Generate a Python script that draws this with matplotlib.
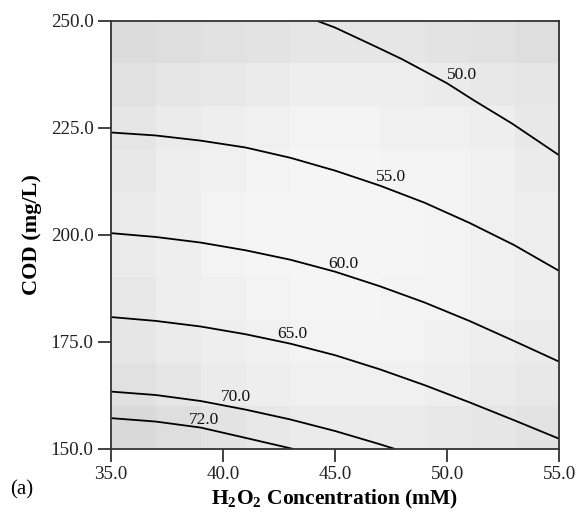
import matplotlib
matplotlib.use("Agg")
import matplotlib.pyplot as plt
import numpy as np

# ---- data ----
levels = ["50.0", "55.0", "60.0", "65.0", "70.0", "72.0"]

x50 = [44.18, 45.0, 46.88, 48.0, 50.0, 51.17, 52.9, 55.0]
y50 = [250.0, 248.4, 243.8, 241.0, 235.4, 231.5, 226.0, 218.6]

x55 = [35.0, 37.0, 39.0, 41.0, 43.0, 45.0, 47.0, 49.0, 51.0, 53.0, 55.0]
y55 = [223.9, 223.2, 222.0, 220.4, 218.0, 215.0, 211.5, 207.5, 202.8, 197.6, 191.6]

x60 = [35.0, 37.0, 39.0, 41.0, 43.0, 45.0, 47.0, 49.0, 51.0, 53.0, 55.0]
y60 = [200.4, 199.5, 198.2, 196.4, 194.2, 191.4, 188.0, 184.2, 179.9, 175.2, 170.4]

x65 = [35.0, 37.0, 39.0, 41.0, 43.0, 45.0, 47.0, 49.0, 51.0, 53.0, 55.0]
y65 = [180.8, 179.9, 178.6, 176.8, 174.6, 171.9, 168.6, 164.9, 160.9, 156.7, 152.4]

x70 = [35.0, 37.0, 39.0, 41.0, 43.0, 45.0, 46.88, 47.68]
y70 = [163.4, 162.6, 161.2, 159.2, 156.9, 154.2, 151.3, 150.0]

x72 = [35.0, 37.0, 39.0, 41.0, 43.14]
y72 = [157.2, 156.4, 155.0, 152.6, 150.0]

# label centres (x, y) in data units
label_x = [50.67, 47.52, 45.36, 43.10, 40.58, 39.15]
label_y = [237.3, 213.5, 193.3, 176.85, 162.1, 156.8]

xticks = [35.0, 40.0, 45.0, 50.0, 55.0]
yticks = [150.0, 175.0, 200.0, 225.0, 250.0]

# background grey shading (rows from bottom to top)
bg = [
    [0.85, 0.87, 0.89, 0.91, 0.92, 0.92, 0.92, 0.91, 0.90, 0.89],
    [0.88, 0.90, 0.92, 0.93, 0.94, 0.94, 0.94, 0.93, 0.92, 0.91],
    [0.90, 0.92, 0.93, 0.94, 0.95, 0.95, 0.95, 0.94, 0.93, 0.92],
    [0.91, 0.93, 0.94, 0.95, 0.96, 0.96, 0.95, 0.95, 0.94, 0.93],
    [0.92, 0.93, 0.95, 0.96, 0.96, 0.96, 0.96, 0.95, 0.94, 0.93],
    [0.92, 0.93, 0.95, 0.96, 0.96, 0.96, 0.96, 0.95, 0.94, 0.93],
    [0.91, 0.93, 0.94, 0.95, 0.96, 0.96, 0.95, 0.95, 0.94, 0.92],
    [0.90, 0.92, 0.93, 0.94, 0.95, 0.95, 0.94, 0.94, 0.93, 0.91],
    [0.88, 0.90, 0.91, 0.92, 0.93, 0.93, 0.93, 0.92, 0.91, 0.90],
    [0.86, 0.87, 0.88, 0.89, 0.90, 0.90, 0.90, 0.89, 0.88, 0.87],
]

plt.rcParams['font.family'] = ['Liberation Serif', 'DejaVu Serif']
plt.rcParams['mathtext.fontset'] = 'custom'
plt.rcParams['mathtext.rm'] = 'Liberation Serif'
plt.rcParams['mathtext.bf'] = 'Liberation Serif:bold'

fig = plt.figure(figsize=(5.76, 5.15), dpi=100)
ax = fig.add_axes([0.1927, 0.1282, 0.9705 - 0.1927, 0.9598 - 0.1282])

ax.imshow(np.array(bg), cmap='gray', vmin=0, vmax=1, origin='lower',
          extent=[35, 55, 150, 250], aspect='auto', interpolation='nearest',
          zorder=0)

for xs, ys in [(x50, y50), (x55, y55), (x60, y60), (x65, y65), (x70, y70), (x72, y72)]:
    ax.plot(xs, ys, color='black', lw=1.3, zorder=2, solid_capstyle='butt',
            solid_joinstyle='round')

for lab, lx, ly in zip(levels, label_x, label_y):
    ax.text(lx, ly, lab, fontsize=12.5, color='#111111', ha='center',
            va='center', zorder=3)

ax.set_xlim(35, 55)
ax.set_ylim(150, 250)
ax.set_xticks(xticks)
ax.set_yticks(yticks)
ax.set_xticklabels([f"{v:.1f}" for v in xticks])
ax.set_yticklabels([f"{v:.1f}" for v in yticks])
ax.tick_params(axis='both', direction='out', length=9.5, width=1.2,
               labelsize=13.8, colors='#222222', pad=3)
ax.tick_params(top=False, right=False)
for s in ax.spines.values():
    s.set_linewidth(1.3)
    s.set_color('#333333')

ax.set_xlabel(r"H$_\mathbf{2}$O$_\mathbf{2}$ Concentration (mM)", fontsize=15.5,
              fontweight='bold', labelpad=3)
ax.set_ylabel("COD (mg/L)", fontsize=16, fontweight='bold', labelpad=6)
fig.text(0.018, 0.03, "(a)", fontsize=15, ha='left', va='bottom')

fig.savefig("out.png", dpi=100)
